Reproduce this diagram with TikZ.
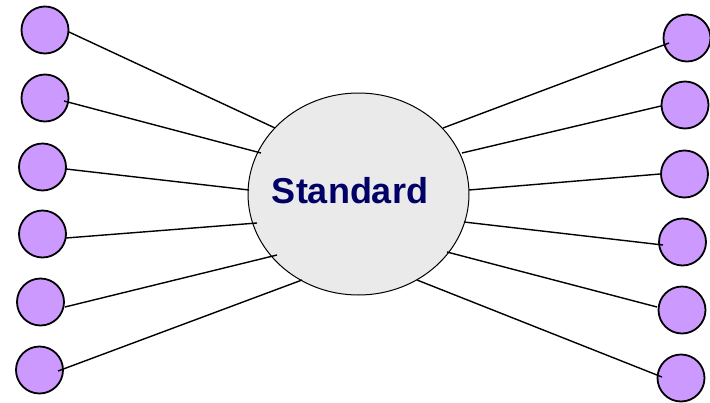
\documentclass[tikz,border=0pt]{standalone}
\usepackage{fontspec}
\setmainfont{Liberation Sans}
\usetikzlibrary{shapes.geometric}
\definecolor{dotfill}{HTML}{CC99FF}
\definecolor{hubfill}{HTML}{EAEAEA}
\definecolor{navytext}{HTML}{000066}
\tikzset{
  dot/.style={circle,draw=black,line width=1.8pt,fill=dotfill,minimum size=47pt,inner sep=0pt},
  hub/.style={ellipse,draw=black,line width=1pt,fill=hubfill,minimum width=221pt,minimum height=202pt,inner sep=0pt},
  spoke/.style={draw=black,line width=1.4pt},
  label/.style={font=\bfseries\fontsize{36}{40}\selectfont,text=navytext,inner sep=0pt}
}
\begin{document}
\begin{tikzpicture}[x=1pt,y=-1pt]
\useasboundingbox (0,0) rectangle (710,402);
% hub
\node[hub] (hub) at (358.5,194) {};
\node[label,anchor=base] (txt) at (350,203) {Standard};
% left dots
\node[dot] (l1) at (45,30) {};
\node[dot] (l2) at (45,98) {};
\node[dot] (l3) at (42.5,167) {};
\node[dot] (l4) at (42.5,234) {};
\node[dot] (l5) at (40.5,302) {};
\node[dot] (l6) at (39.5,370) {};
% right dots
\node[dot] (r1) at (687,38) {};
\node[dot] (r2) at (685,105) {};
\node[dot] (r3) at (684.5,174) {};
\node[dot] (r4) at (682.5,242) {};
\node[dot] (r5) at (682,310) {};
\node[dot] (r6) at (681,378) {};
% spoke end points
\coordinate (pl1) at (69,32);   \coordinate (ql1) at (275,128);
\coordinate (pl2) at (64,101);  \coordinate (ql2) at (261,153);
\coordinate (pl3) at (66,169);  \coordinate (ql3) at (249,190);
\coordinate (pl4) at (66,238);  \coordinate (ql4) at (257,223);
\coordinate (pl5) at (65,307);  \coordinate (ql5) at (277,255);
\coordinate (pl6) at (58,371);  \coordinate (ql6) at (302,280);
\coordinate (pr1) at (669,43);  \coordinate (qr1) at (443,128);
\coordinate (pr2) at (661,106); \coordinate (qr2) at (462,153);
\coordinate (pr3) at (660,174); \coordinate (qr3) at (469,190);
\coordinate (pr4) at (663,245); \coordinate (qr4) at (464,222);
\coordinate (pr5) at (657,307); \coordinate (qr5) at (447,252);
\coordinate (pr6) at (662,377); \coordinate (qr6) at (417,280);
\foreach \i in {1,...,6}{
  \draw[spoke] (pl\i) -- (ql\i);
  \draw[spoke] (pr\i) -- (qr\i);
}
\end{tikzpicture}
\end{document}
